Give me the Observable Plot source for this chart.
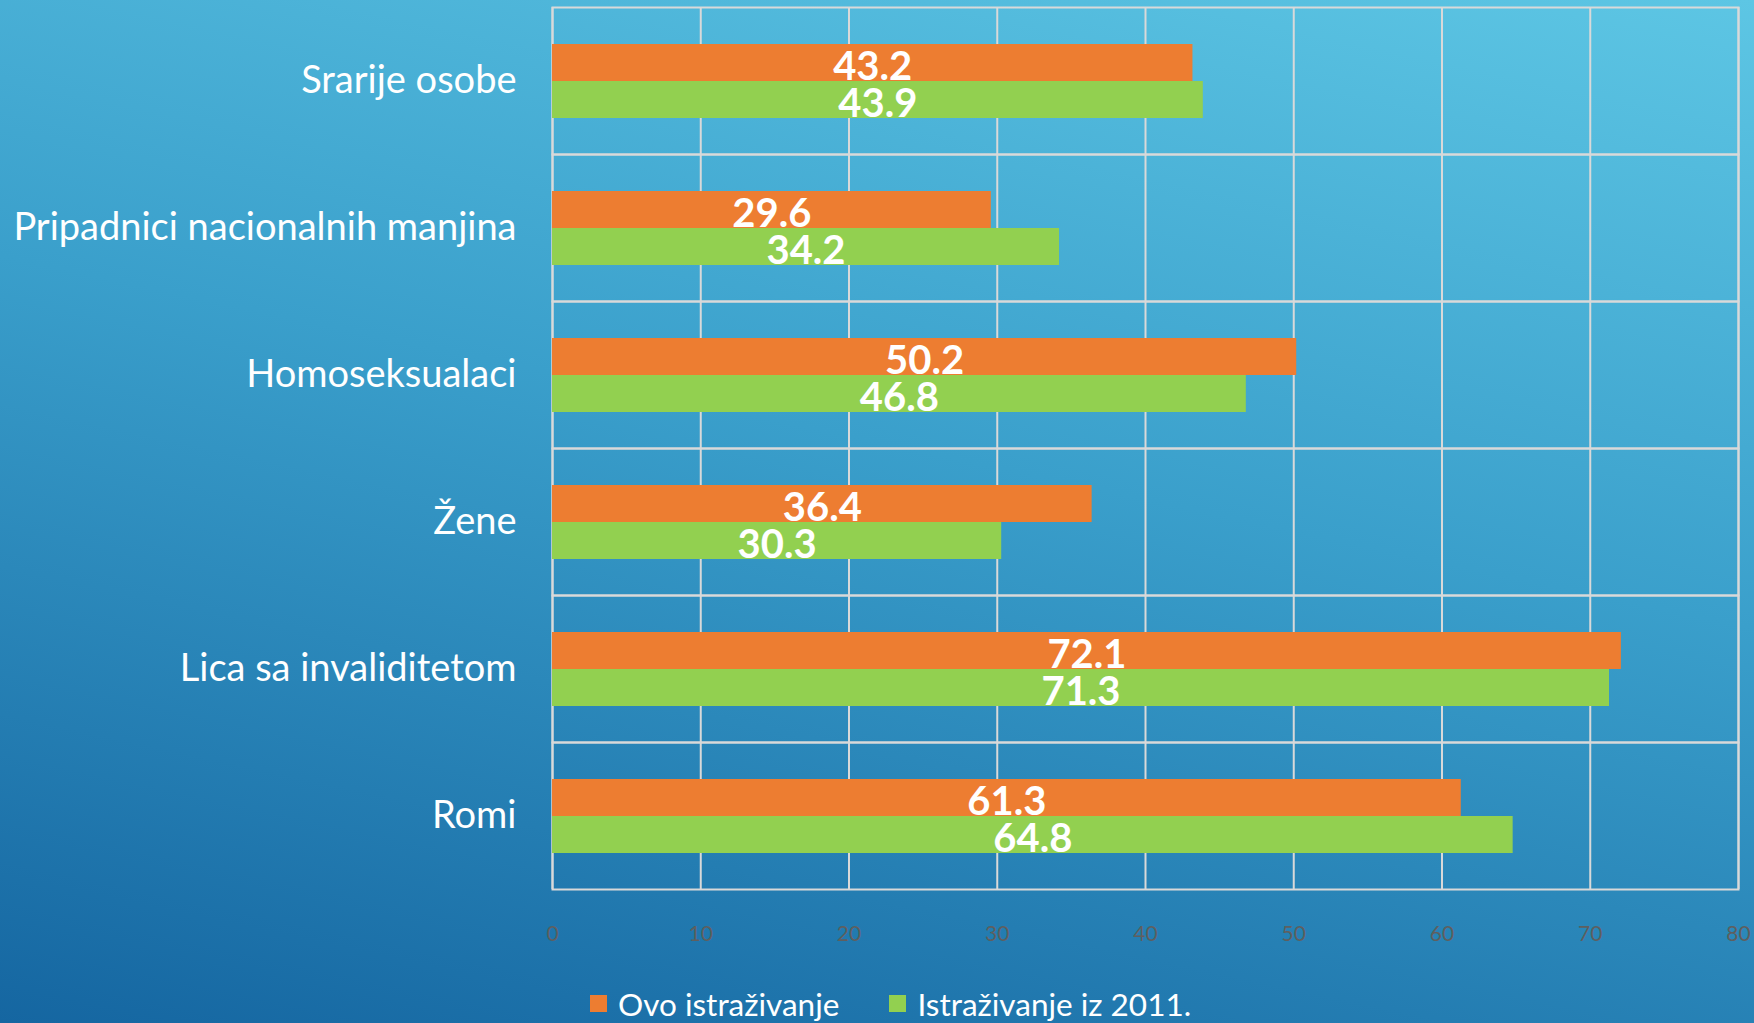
<!DOCTYPE html>
<html>
<head>
<meta charset="utf-8">
<script src="https://cdn.jsdelivr.net/npm/d3@7"></script>
<script src="https://cdn.jsdelivr.net/npm/@observablehq/plot@0.6"></script>
<style>
  html, body { margin: 0; padding: 0; }
  body {
    width: 1754px; height: 1023px; overflow: hidden;
    background: linear-gradient(192deg, #5dc6e4 0%, #3a9fcb 45%, #1566a1 100%);
    font-family: Lato, "Open Sans", sans-serif;
  }
  #chart svg { display: block; background: transparent; }
  #legend {
    height: 39px; padding-top: 24px; display: flex; align-items: center;
    padding-left: 590px; color: white; font-size: 31.5px; font-family: Lato, sans-serif;
  }
  .item { display: flex; align-items: center; }
  .sw { width: 17px; height: 17px; margin-right: 11px; }
</style>
</head>
<body>
<div id="chart"></div>
<div id="legend"></div>
<script>
const categories = ["Srarije osobe", "Pripadnici nacionalnih manjina", "Homoseksualaci", "Žene", "Lica sa invaliditetom", "Romi"];
const seriesNames = ["Ovo istraživanje", "Istraživanje iz 2011."];
const ovo = [43.2, 29.6, 50.2, 36.4, 72.1, 61.3];
const ist2011 = [43.9, 34.2, 46.8, 30.3, 71.3, 64.8];
const seriesColors = ["#ED7D31", "#92D050"];
const xTicks = [0, 10, 20, 30, 40, 50, 60, 70, 80];

const table = [];
categories.forEach((c, i) => {
  table.push({category: c, series: seriesNames[0], value: ovo[i]});
  table.push({category: c, series: seriesNames[1], value: ist2011[i]});
});

const chart = Plot.plot({
  width: 1754,
  height: 960,
  marginTop: 6,
  marginBottom: 70,
  marginLeft: 552,
  marginRight: 16,
  style: {fontFamily: "Lato, sans-serif", fontSize: "21px", color: "#5f5f5f", background: "transparent"},
  x: {domain: [0, 80], ticks: xTicks, tickSize: 0, tickPadding: 37, label: null, axis: "bottom"},
  y: {domain: seriesNames, axis: null, paddingInner: 0, paddingOuter: 0.95},
  fy: {domain: categories, axis: null, padding: 0},
  color: {domain: seriesNames, range: seriesColors},
  marks: [
    Plot.ruleX(xTicks, {stroke: "#d9d9d9", strokeWidth: 2}),
    Plot.frame({stroke: "#d9d9d9", strokeWidth: 2}),
    Plot.barX(table, {fy: "category", y: "series", x: "value", fill: "series"}),
    Plot.text(table, {fy: "category", y: "series", x: d => d.value / 2, text: d => d.value.toFixed(1),
      fill: "white", fontWeight: "bold", fontSize: 40, dy: 4}),
    Plot.text(categories, {fy: d => d, text: d => d, frameAnchor: "left", textAnchor: "end", dx: -36,
      fill: "white", fontSize: 38})
  ]
});
document.getElementById("chart").appendChild(chart);

const legend = document.getElementById("legend");
seriesNames.forEach((s, i) => {
  const it = document.createElement("div");
  it.className = "item";
  if (i > 0) it.style.marginLeft = "50px";
  const sw = document.createElement("div");
  sw.className = "sw";
  sw.style.background = seriesColors[i];
  const t = document.createElement("span");
  t.textContent = s;
  it.appendChild(sw); it.appendChild(t);
  legend.appendChild(it);
});
</script>
</body>
</html>
